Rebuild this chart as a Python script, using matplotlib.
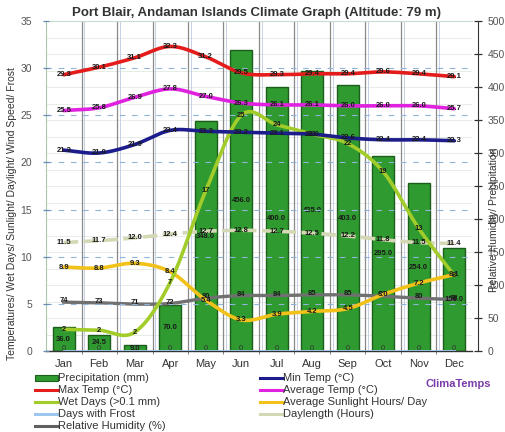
import numpy as np
import matplotlib
matplotlib.use("Agg")
import matplotlib.pyplot as plt
from matplotlib.lines import Line2D
from matplotlib.patches import Rectangle

plt.rcParams['font.family'] = ['Liberation Sans', 'DejaVu Sans']

months = ["Jan", "Feb", "Mar", "Apr", "May", "Jun", "Jul", "Aug", "Sep", "Oct", "Nov", "Dec"]
precip = [36.0, 24.5, 9.0, 70.0, 348.0, 456.0, 400.0, 425.0, 403.0, 295.0, 254.0, 156.0]
max_temp = [29.3, 30.1, 31.1, 32.3, 31.2, 29.5, 29.3, 29.4, 29.4, 29.6, 29.4, 29.1]
avg_temp = [25.5, 25.8, 26.9, 27.8, 27.0, 26.3, 26.1, 26.1, 26.0, 26.0, 26.0, 25.7]
min_temp = [21.3, 21.0, 21.9, 23.4, 23.3, 23.2, 23.1, 23.0, 22.6, 22.4, 22.4, 22.3]
wet_days = [2.3, 2.2, 2.0, 7.3, 17.0, 25.0, 24.0, 23.0, 22.0, 19.0, 13.0, 8.0]
sunlight = [8.9, 8.8, 9.3, 8.4, 5.4, 3.3, 3.9, 4.2, 4.5, 6.0, 7.2, 8.1]
daylength = [11.5, 11.7, 12.0, 12.4, 12.7, 12.8, 12.7, 12.5, 12.2, 11.8, 11.5, 11.4]
frost = [0] * 12
humidity = [74, 73, 71, 72, 80, 84, 84, 85, 85, 83, 80, 78]

W, H = 505, 432
fig = plt.figure(figsize=(W / 100, H / 100), dpi=100)
fig.patch.set_facecolor("white")

def fx(px):
    return px / W

def fy(py):
    return 1 - py / H

L, R, T, B = 46, 472, 21, 351
ax_p = fig.add_axes([fx(L), fy(B), (R - L) / W, (B - T) / H])
ax_t = ax_p.twinx()

x = np.arange(12)

def smooth(xs, ys, n=16):
    xs = np.asarray(xs, float)
    ys = np.asarray(ys, float)
    px = np.concatenate([[2 * xs[0] - xs[1]], xs, [2 * xs[-1] - xs[-2]]])
    py = np.concatenate([[2 * ys[0] - ys[1]], ys, [2 * ys[-1] - ys[-2]]])
    ox, oy = [], []
    for i in range(1, len(px) - 2):
        t = np.linspace(0, 1, n, endpoint=(i == len(px) - 3))
        for arr, out in ((px, ox), (py, oy)):
            p0, p1, p2, p3 = arr[i - 1], arr[i], arr[i + 1], arr[i + 2]
            out.extend(0.5 * ((2 * p1) + (-p0 + p2) * t +
                              (2 * p0 - 5 * p1 + 4 * p2 - p3) * t ** 2 +
                              (-p0 + 3 * p1 - 3 * p2 + p3) * t ** 3))
    return np.array(ox), np.array(oy)

# ---- precipitation axis (right) ----
ax_p.set_xlim(-0.5, 11.5)
ax_p.set_ylim(0, 500)
ax_p.set_facecolor("white")

# grid
for v in np.arange(25, 500, 25):
    ax_p.axhline(v, color="#e6ece6", lw=0.7, zorder=0)
for b in np.arange(0.5, 11.5, 1):
    ax_p.axvline(b, color="#8a8a8a", lw=0.9, zorder=0.5)
    ax_p.axvline(b + 0.08, color="#c8d0e8", lw=0.7, zorder=0.4)
for v in np.arange(5, 35, 5):
    ax_t.axhline(v, color="#8fb4d8", lw=0.8, ls=(0, (5, 6)), zorder=0.6)

ax_p.bar(x, precip, width=0.62, color="#2f9a2f", edgecolor="#1c5e1c", lw=1.0, zorder=1)
for xi, v in zip(x, precip):
    ax_p.text(xi, v / 2, f"{v:.1f}", ha="center", va="center", fontsize=5.5,
              fontweight="bold", color="#1a1a1a", zorder=8)

sx, sy = smooth(x, humidity)
ax_p.plot(sx, sy, color="#707070", lw=2.4, zorder=3)
for xi, v in zip(x, humidity):
    ax_p.text(xi, v + 2, f"{v}", ha="center", va="center", fontsize=5.5,
              fontweight="bold", color="#1a1a1a", zorder=8)

ax_p.yaxis.tick_right()
ax_p.set_yticks(np.arange(0, 501, 50))
ax_p.tick_params(axis="y", direction="inout", length=6, width=0.9, labelsize=7.5,
                 labelcolor="#555555", color="#333333", pad=4)
ax_p.spines["right"].set_position(("outward", 4))
ax_p.spines["right"].set_color("#333333")
ax_p.spines["left"].set_color("#a8c8a8")
ax_p.spines["top"].set_color("#c8dcd0")
ax_p.spines["bottom"].set_color("#333333")
ax_p.spines["bottom"].set_linewidth(1.0)
ax_p.set_xticks(x)
ax_p.set_xticklabels(months)
ax_p.set_xticks(np.arange(0.5, 11.5, 1), minor=True)
ax_p.tick_params(axis="x", which="major", length=0, labelsize=8, labelcolor="#333333", pad=6)
ax_p.tick_params(axis="x", which="minor", direction="inout", length=5, color="#666666")

# ---- temperature axis (left) ----
ax_t.set_ylim(0, 35)
ax_t.yaxis.tick_left()
ax_t.yaxis.set_label_position("left")
ax_t.set_yticks(np.arange(0, 36, 5))
ax_t.tick_params(axis="y", direction="inout", length=4, width=0.9, labelsize=7.5,
                 labelcolor="#555555", color="#6a8ab8", pad=8)
for s in ax_t.spines.values():
    s.set_visible(False)

series = [
    (daylength, "#d4d8b4", "{:.1f}", (0, (4, 1.5))),
    (sunlight, "#f2c21a", "{:.1f}", "-"),
    (wet_days, "#a2cc2a", "{:.0f}", "-"),
    (min_temp, "#1c1c8c", "{:.1f}", "-"),
    (avg_temp, "#e022e0", "{:.1f}", "-"),
    (max_temp, "#e41c1c", "{:.1f}", "-"),
]
for ys, col, fmt, ls in series:
    sx, sy = smooth(x, ys)
    ax_t.plot(sx, sy, color=col, lw=2.6, ls=ls, zorder=4, solid_capstyle="round")
    for xi, v in zip(x, ys):
        ax_t.text(xi, v, fmt.format(v), ha="center", va="center", fontsize=5.5,
                  fontweight="bold", color="#1a1a1a", zorder=8)

ax_t.plot(x, frost, color="#9cc8f0", lw=2.0, zorder=4)
for xi, v in zip(x, frost):
    ax_t.text(xi, v + 0.25, f"{v}", ha="center", va="center", fontsize=5.5,
              color="#333333", zorder=8)

# ---- texts ----
fig.text(fx(256), fy(13), "Port Blair, Andaman Islands Climate Graph (Altitude: 79 m)",
         ha="center", va="center", fontsize=9.5, fontweight="bold", color="#333333")
fig.text(fx(12), fy(214), "Temperatures/ Wet Days/ Sunlight/ Daylight/ Wind Speed/ Frost",
         rotation=90, ha="center", va="center", fontsize=7.5, color="#333333")
fig.text(fx(494), fy(220), "Relative Humidity/ Precipitation",
         rotation=90, ha="center", va="center", fontsize=7.5, color="#333333")

# ---- legend ----
legend_items = [
    (35, 378, "Precipitation (mm)", "#2f9a2f", "bar"),
    (35, 390, "Max Temp (°C)", "#e41c1c", "line"),
    (35, 402, "Wet Days (>0.1 mm)", "#a2cc2a", "line"),
    (35, 414, "Days with Frost", "#9cc8f0", "line"),
    (35, 426, "Relative Humidity (%)", "#606060", "line"),
    (260, 378, "Min Temp (°C)", "#1c1c8c", "line"),
    (260, 390, "Average Temp (°C)", "#e022e0", "line"),
    (260, 402, "Average Sunlight Hours/ Day", "#f2c21a", "line"),
    (260, 414, "Daylength (Hours)", "#d4d8b4", "line"),
]
for px0, py0, label, col, kind in legend_items:
    if kind == "bar":
        fig.patches.append(Rectangle((fx(px0), fy(py0 + 3)), 23 / W, 6 / H,
                                     transform=fig.transFigure, facecolor=col,
                                     edgecolor="#1c5e1c", lw=0.8))
    else:
        fig.lines.append(Line2D([fx(px0), fx(px0 + 23)], [fy(py0), fy(py0)],
                                transform=fig.transFigure, color=col, lw=2.2))
    fig.text(fx(px0 + 23), fy(py0), label, ha="left", va="center", fontsize=8, color="#333333")

fig.text(fx(458), fy(384), "ClimaTemps", ha="center", va="center", fontsize=8,
         fontweight="bold", color="#7a3aa8")

fig.savefig("out.png", dpi=100, facecolor="white")
